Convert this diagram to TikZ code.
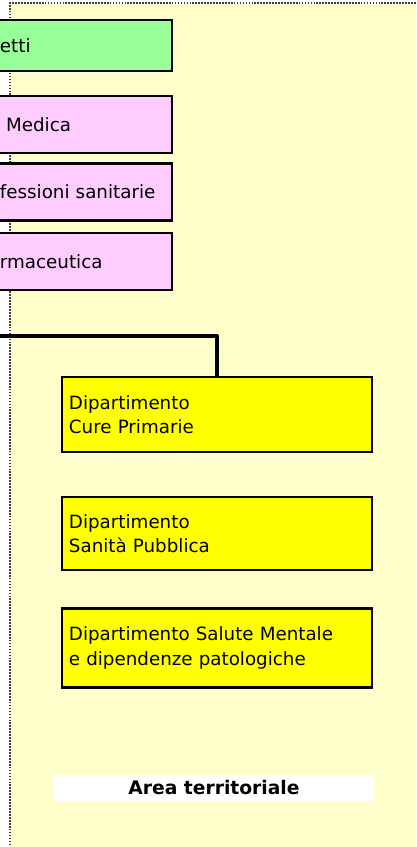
\documentclass[tikz,border=0pt]{standalone}
\usepackage{fontspec}
\setmainfont{DejaVu Sans}
\usetikzlibrary{positioning}

\definecolor{panelbg}{HTML}{FFFFCC}
\definecolor{staffgreen}{HTML}{99FF99}
\definecolor{staffpink}{HTML}{FFCCFF}
\definecolor{deptyellow}{HTML}{FFFF00}

\begin{document}
\begin{tikzpicture}[
    x=0.025cm, y=-0.025cm,
    every node/.style={font=\fontsize{13}{17.4}\selectfont, inner sep=0pt},
    staffbox/.style={draw=black, line width=1.6pt, minimum width=4.55cm, text width=4.05cm, inner xsep=0.25cm, align=left, minimum height=1.425cm},
    deptbox/.style={draw=black, line width=1.6pt, fill=deptyellow, minimum width=7.75cm, text width=7.4cm, inner xsep=0.175cm, align=left}
]

% Picture frame
\useasboundingbox (0,0) rectangle (416,847);
\clip (0,0) rectangle (416,847);

% Territorial panel
\fill[panelbg] (10,3) rectangle (430,860);
\draw[black!75, line width=1pt, dash pattern=on 1.2pt off 0.9pt] (10,860) -- (10,3) -- (430,3);

% Staff boxes (cut at the left edge)
\node[staffbox, fill=staffgreen, minimum height=1.275cm] (progetti) at (81,45.5) {etti};
\node[staffbox, fill=staffpink, below=0.575cm of progetti] (medica) {\ Medica};
\node[staffbox, fill=staffpink, below=0.2cm of medica] (professioni) {fessioni sanitarie};
\node[staffbox, fill=staffpink, below=0.25cm of professioni] (farmaceutica) {rmaceutica};

% Departments
\node[deptbox, minimum height=1.875cm] (cure) at (217,414.5) {Dipartimento\\Cure Primarie};
\node[deptbox, minimum height=1.825cm, below=1.075cm of cure] (sanita) {Dipartimento\\Sanità Pubblica};
\node[deptbox, minimum height=1.975cm, below=0.9cm of sanita] (mentale) {Dipartimento Salute Mentale\\e dipendenze patologiche};

% Connector from the left
\coordinate (busleft) at (-5,336);
\draw[line width=2.85pt, line join=round] (busleft) -| (cure.north);

% Area title
\node[fill=white, minimum width=8cm, minimum height=0.65cm, font=\fontsize{13.3}{17.4}\selectfont\bfseries] (areatitle) at (214,788) {Area territoriale};

\end{tikzpicture}
\end{document}
